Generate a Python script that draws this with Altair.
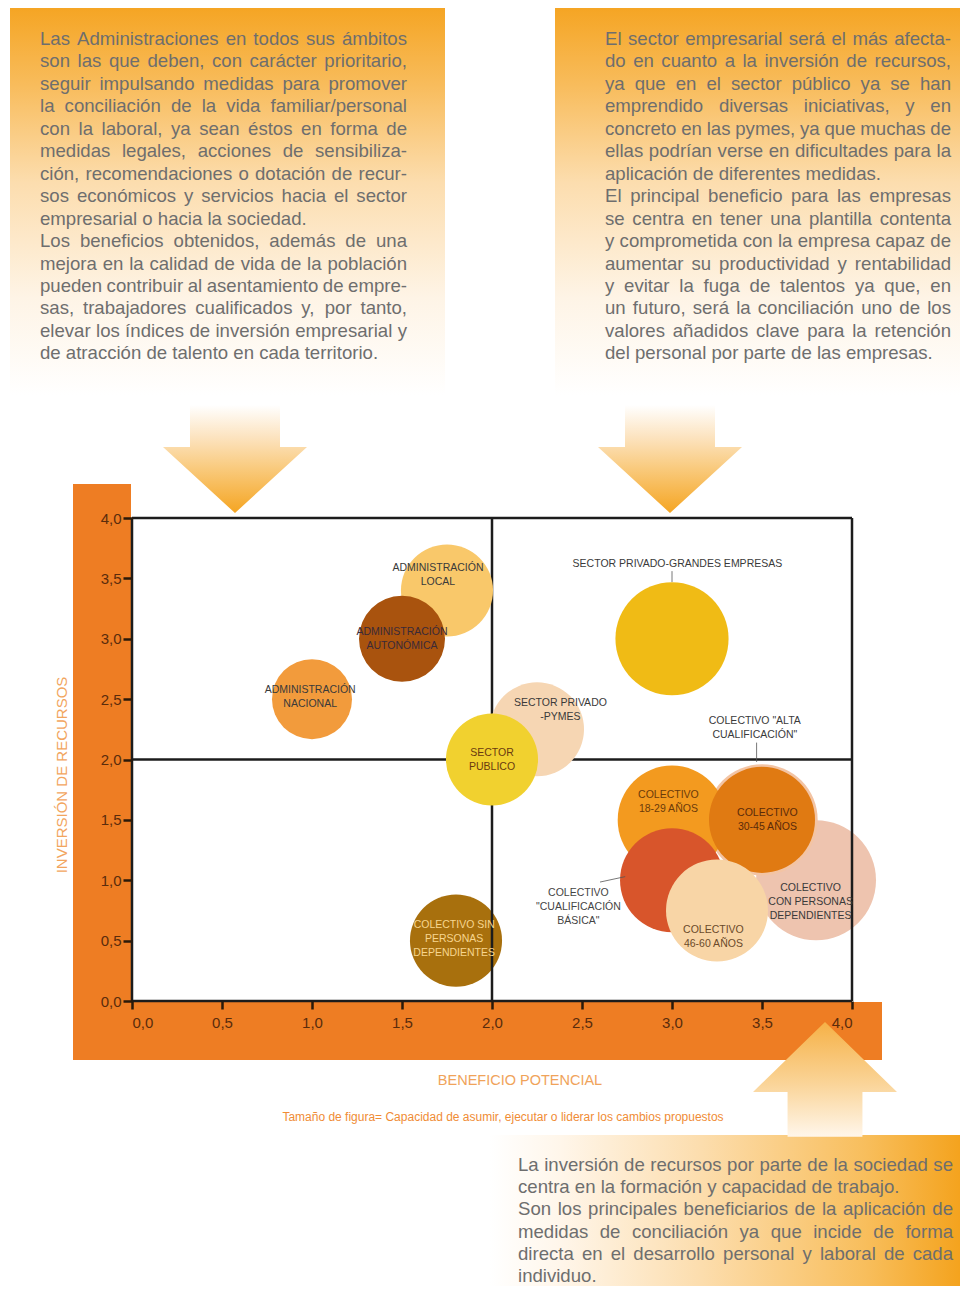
import altair as alt
import pandas as pd

# ---------------- data ----------------
nombres = [
    "COLECTIVO CON PERSONAS DEPENDIENTES", "COLECTIVO SIN PERSONAS DEPENDIENTES",
    "ADMINISTRACIÓN LOCAL", "ADMINISTRACIÓN AUTONÓMICA", "ADMINISTRACIÓN NACIONAL",
    "SECTOR PRIVADO-PYMES", "SECTOR PÚBLICO", "SECTOR PRIVADO-GRANDES EMPRESAS",
    "COLECTIVO ALTA CUALIFICACIÓN", "COLECTIVO 18-29 AÑOS", "COLECTIVO 30-45 AÑOS",
    "COLECTIVO CUALIFICACIÓN BÁSICA", "COLECTIVO 46-60 AÑOS",
]
beneficio = [3.8, 1.8, 1.75, 1.5, 1.0, 2.25, 2.0, 3.0, 3.5, 3.0, 3.5, 3.0, 3.25]
inversion = [1.0, 0.5, 3.4, 3.0, 2.5, 2.25, 2.0, 3.0, 1.5, 1.5, 1.5, 1.0, 0.75]
capacidad = [36.0, 21.2, 21.2, 18.5, 16.0, 22.1, 21.2, 32.0, 31.0, 29.5, 28.1, 27.0, 26.0]
colores = [
    "#EEC4AF", "#A8700D", "#F9C86A", "#A9530E", "#F29B3C", "#F6D6B3", "#F1D12F",
    "#F0BB15", "#F3C4A4", "#F39A1F", "#E07A12", "#D8552B", "#F8D5A6",
]
capa_fondo = ["COLECTIVO CON PERSONAS DEPENDIENTES", "COLECTIVO SIN PERSONAS DEPENDIENTES"]

etiquetas = [
    "ADMINISTRACIÓN\nLOCAL", "ADMINISTRACIÓN\nAUTONÓMICA", "ADMINISTRACIÓN\nNACIONAL",
    "SECTOR\nPUBLICO", "SECTOR PRIVADO\n-PYMES", "SECTOR PRIVADO-GRANDES EMPRESAS",
    "COLECTIVO \"ALTA\nCUALIFICACIÓN\"", "COLECTIVO\n18-29 AÑOS", "COLECTIVO\n30-45 AÑOS",
    "COLECTIVO\n\"CUALIFICACIÓN\nBÁSICA\"", "COLECTIVO\n46-60 AÑOS",
    "COLECTIVO\nCON PERSONAS\nDEPENDIENTES", "COLECTIVO SIN\nPERSONAS\nDEPENDIENTES",
]
# position of the first line of each label (data units)
etiqueta_x = [1.70, 1.5, 0.99, 2.0, 2.38, 3.03, 3.46, 2.98, 3.53, 2.48, 3.23, 3.77, 1.79]
etiqueta_y = [3.586, 3.056, 2.576, 2.054, 2.468, 3.619, 2.319, 1.706, 1.557, 0.894, 0.588, 0.936, 0.629]
etiqueta_color = ["#3a3a3a", "#3a2a38", "#3a3a3a", "#6A3A10", "#3a3a3a", "#3a3a3a",
                  "#3a3a3a", "#6b3a0a", "#5a2a0a", "#444444", "#6b4a2a", "#3a3a3a", "#F7D68F"]

guia_x = [3.0, 3.47, 2.60]
guia_x2 = [3.0, 3.47, 2.74]
guia_y = [3.56, 2.14, 0.985]
guia_y2 = [3.47, 1.98, 1.03]

marco_x = [0, 0, 0, 4, 0, 2]
marco_x2 = [4, 4, 0, 4, 4, 2]
marco_y = [4, 0, 0, 0, 2, 0]
marco_y2 = [4, 0, 4, 4, 2, 4]

ticks = [0.0, 0.5, 1.0, 1.5, 2.0, 2.5, 3.0, 3.5, 4.0]

texto_izq = [
    "Las Administraciones en todos sus ámbitos",
    "son las que deben, con carácter prioritario,",
    "seguir impulsando medidas para promover",
    "la conciliación de la vida familiar/personal",
    "con la laboral, ya sean éstos en forma de",
    "medidas legales, acciones de sensibiliza-",
    "ción, recomendaciones o dotación de recur-",
    "sos económicos y servicios hacia el sector",
    "empresarial o hacia la sociedad.",
    "Los beneficios obtenidos, además de una",
    "mejora en la calidad de vida de la población",
    "pueden contribuir al asentamiento de empre-",
    "sas, trabajadores cualificados y, por tanto,",
    "elevar los índices de inversión empresarial y",
    "de atracción de talento en cada territorio.",
]
texto_der = [
    "El sector empresarial será el más afecta-",
    "do en cuanto a la inversión de recursos,",
    "ya que en el sector público ya se han",
    "emprendido diversas iniciativas, y en",
    "concreto en las pymes, ya que muchas de",
    "ellas podrían verse en dificultades para la",
    "aplicación de diferentes medidas.",
    "El principal beneficio para las empresas",
    "se centra en tener una plantilla contenta",
    "y comprometida con la empresa capaz de",
    "aumentar su productividad y rentabilidad",
    "y evitar la fuga de talentos ya que, en",
    "un futuro, será la conciliación uno de los",
    "valores añadidos clave para la retención",
    "del personal por parte de las empresas.",
]
texto_inf = [
    "La inversión de recursos por parte de la sociedad se",
    "centra en la formación y capacidad de trabajo.",
    "Son los principales beneficiarios de la aplicación de",
    "medidas de conciliación ya que incide de forma",
    "directa en el desarrollo personal y laboral de cada",
    "individuo.",
]

titulo_y = "INVERSIÓN DE RECURSOS"
titulo_x = "BENEFICIO POTENCIAL"
nota = "Tamaño de figura= Capacidad de asumir, ejecutar o liderar los cambios propuestos"

# ---------------- text metrics (Arial / Liberation Sans advance widths, 1/1000 em) -------------
_W = {" ": 278, "!": 278, '"': 355, ",": 278, "-": 333, ".": 278, "/": 278, "=": 584,
      "a": 556, "b": 556, "c": 500, "d": 556, "e": 556, "f": 278, "g": 556, "h": 556, "i": 222,
      "j": 222, "k": 500, "l": 222, "m": 833, "n": 556, "o": 556, "p": 556, "q": 556, "r": 333,
      "s": 500, "t": 278, "u": 556, "v": 500, "w": 722, "x": 500, "y": 500, "z": 500,
      "á": 556, "é": 556, "í": 278, "ó": 556, "ú": 556, "ñ": 556,
      "A": 667, "B": 667, "C": 722, "D": 722, "E": 667, "F": 611, "G": 778, "H": 722, "I": 278,
      "J": 500, "K": 667, "L": 556, "M": 833, "N": 722, "O": 778, "P": 667, "Q": 778, "R": 722,
      "S": 667, "T": 611, "U": 722, "V": 667, "W": 944, "X": 667, "Y": 667, "Z": 611}


def ancho(s, size):
    return sum(_W.get(ch, 556) for ch in s) / 1000.0 * size


def justificado(lines, width, size):
    rows = []
    for i, line in enumerate(lines):
        words = line.split(" ")
        natural = sum(ancho(w, size) for w in words)
        if line.endswith(".") or len(words) < 2:
            gap = ancho(" ", size)
        else:
            gap = (width - natural) / (len(words) - 1)
        pos = 0.0
        for w in words:
            rows.append({"t": w, "i": i, "dx": pos})
            pos += ancho(w, size) + gap
    return pd.DataFrame(rows)


# ---------------- tables ----------------
burbujas = pd.DataFrame({"nombre": nombres, "x": beneficio, "y": inversion,
                         "cap": capacidad, "color": colores})
etq = pd.DataFrame({"label": etiquetas, "x": etiqueta_x, "y": etiqueta_y, "c": etiqueta_color})
guias = pd.DataFrame({"x": guia_x, "x2": guia_x2, "y": guia_y, "y2": guia_y2})
marco = pd.DataFrame({"x": marco_x, "x2": marco_x2, "y": marco_y, "y2": marco_y2})
uno = pd.DataFrame({"k": [0]})

FONT = "Liberation Sans, Arial, sans-serif"
LABEL_EXPR = "replace(format(datum.value, '.1f'), '.', ',')"
TXT = 18.6

xs = alt.Scale(domain=[0, 4], nice=False, zero=False)
ys = alt.Scale(domain=[0, 4], nice=False, zero=False)
size_scale = alt.Scale(domain=[0, 40], range=[0, 16000], zero=True)


def grad(stops, horizontal=False):
    return alt.Gradient(
        gradient="linear",
        stops=[alt.GradientStop(offset=o, color=c) for o, c in stops],
        x1=0, y1=0, x2=1 if horizontal else 0, y2=0 if horizontal else 1,
    )


caja_vert = grad([(0, "#F5A524"), (0.2, "#F8BC5C"), (0.45, "#FCDDAE"), (0.75, "#FEF4E6"), (1, "#FFFFFF")])
caja_hor = grad([(0, "#FFFFFF"), (0.15, "#FFF6EA"), (0.45, "#FCDDAD"), (0.8, "#F8BE5C"), (1, "#F4A31E")], True)
flecha_baja = grad([(0, "#FFFFFF"), (0.3, "#FCE3BF"), (0.6, "#F9C97A"), (1, "#F5A522")])
flecha_sube = grad([(0, "#F6B146"), (0.55, "#FAD59A"), (1, "#FFF6EA")])


def caja(x, x2, y, y2, fill):
    return alt.Chart(uno).mark_rect(color=fill).encode(
        x=alt.value(x), x2=alt.value(x2), y=alt.value(y), y2=alt.value(y2))


def bloque(lines, x0, y0, dy, width):
    df = justificado(lines, width, TXT)
    return alt.Chart(df).transform_calculate(
        py=f"{y0} + datum.i * {dy}", px=f"{x0} + datum.dx"
    ).mark_text(
        align="left", baseline="middle", font=FONT, fontSize=TXT, color="#6e6e6e"
    ).encode(x=alt.X("px:Q", scale=None, axis=None),
             y=alt.Y("py:Q", scale=None, axis=None), text="t:N")


def flecha(path, x, y, size, fill):
    return alt.Chart(uno).mark_point(
        shape=path, filled=True, fill=fill, size=size, opacity=1, strokeOpacity=0
    ).encode(x=alt.value(x), y=alt.value(y))


ABAJO = "M-0.625,-0.583 L0.625,-0.583 L0.625,0 L1,0 L0,0.917 L-1,0 L-0.625,0 Z"
ARRIBA = "M-0.52,0.62 L0.52,0.62 L0.52,0 L1,0 L0,-0.972 L-1,0 L-0.52,0 Z"

# text boxes and arrows
cajas = [
    caja(-122, 313, -510, -123, caja_vert),
    caja(423, 828, -510, -123, caja_vert),
    caja(358, 828, 617, 768, caja_hor),
    bloque(texto_izq, -92, -479, 22.45, 367),
    bloque(texto_der, 473, -479, 22.45, 346),
    bloque(texto_inf, 386, 647, 22.2, 435),
    flecha(ABAJO, 103, -71, 20736, flecha_baja),
    flecha(ABAJO, 538, -71, 20736, flecha_baja),
]

# orange L band
banda = [
    alt.Chart(uno).mark_rect(color="#EE7D23").encode(
        x=alt.value(-59), x2=alt.value(-1), y=alt.value(-34), y2=alt.value(542)),
    alt.Chart(uno).mark_rect(color="#EE7D23").encode(
        x=alt.value(-59), x2=alt.value(750), y=alt.value(484), y2=alt.value(542)),
]

xaxis = alt.Axis(values=ticks, labelExpr=LABEL_EXPR, title=None, grid=False, domain=False,
                 tickColor="#2a1a0a", tickWidth=2.5, tickSize=8, labelColor="#5a2c0c",
                 labelFontSize=15, labelFont=FONT, labelPadding=6, zindex=1)
yaxis = alt.Axis(values=ticks, labelExpr=LABEL_EXPR, title=None, grid=False, domain=False,
                 tickColor="#2a1a0a", tickWidth=2.5, tickSize=9, labelColor="#5a2c0c",
                 labelFontSize=15, labelFont=FONT, labelPadding=2, zindex=1)


def capa_burbujas(fondo):
    pred = alt.FieldOneOfPredicate(field="nombre", oneOf=capa_fondo)
    base = alt.Chart(burbujas)
    base = base.transform_filter(pred) if fondo else base.transform_filter({"not": pred.to_dict()})
    return base.mark_circle(opacity=1).encode(
        x=alt.X("x:Q", scale=xs, axis=xaxis),
        y=alt.Y("y:Q", scale=ys, axis=yaxis),
        size=alt.Size("cap:Q", scale=size_scale, legend=None),
        color=alt.Color("color:N", scale=None),
    )


marco_capa = alt.Chart(marco).mark_rule(color="#1c1c1c", strokeWidth=2.5).encode(
    x=alt.X("x:Q", scale=xs), x2="x2:Q", y=alt.Y("y:Q", scale=ys), y2="y2:Q")

guias_capa = alt.Chart(guias).mark_rule(color="#555555", strokeWidth=0.8).encode(
    x=alt.X("x:Q", scale=xs), x2="x2:Q", y=alt.Y("y:Q", scale=ys), y2="y2:Q")

etq_capa = alt.Chart(etq).mark_text(
    lineBreak="\n", lineHeight=13.8, fontSize=10.5, font=FONT, align="center", baseline="middle"
).encode(x=alt.X("x:Q", scale=xs), y=alt.Y("y:Q", scale=ys), text="label:N",
         color=alt.Color("c:N", scale=None))

titulos = [
    alt.Chart(uno).mark_text(text=titulo_y, angle=270, font=FONT, fontSize=15, color="#F2A55E",
                             align="center", baseline="middle").encode(
        x=alt.value(-70), y=alt.value(257)),
    alt.Chart(uno).mark_text(text=titulo_x, font=FONT, fontSize=14.5, color="#F0A35A",
                             align="center", baseline="middle").encode(
        x=alt.value(388), y=alt.value(563)),
    alt.Chart(uno).mark_text(text=nota, font=FONT, fontSize=12, color="#F08C35",
                             align="center", baseline="middle").encode(
        x=alt.value(371), y=alt.value(599)),
]

chart = alt.layer(
    *cajas, *banda,
    capa_burbujas(True),
    marco_capa,
    capa_burbujas(False),
    guias_capa, etq_capa,
    flecha(ARRIBA, 693, 574, 20736, flecha_sube),
    *titulos,
).properties(
    width=720, height=483,
    autosize=alt.AutoSizeParams(type="none"),
    padding={"left": 124, "top": 510, "right": 108, "bottom": 285},
).configure_view(stroke=None)

chart.save("out.html", embed_options={"renderer": "svg", "actions": False})
